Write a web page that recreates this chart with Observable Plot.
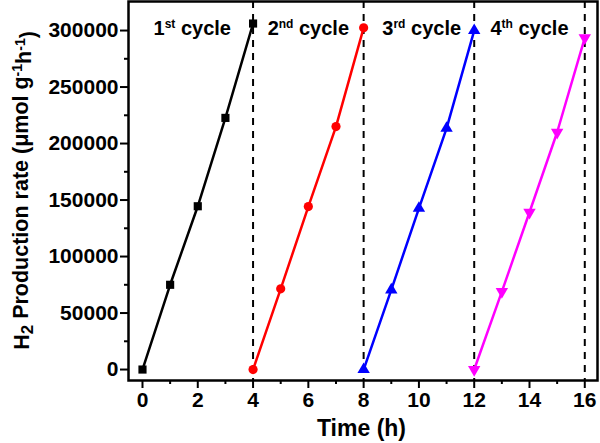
<!DOCTYPE html>
<html>
<head>
<meta charset="utf-8">
<script src="https://cdn.jsdelivr.net/npm/d3@7"></script>
<script src="https://cdn.jsdelivr.net/npm/@observablehq/plot@0.6"></script>
<style>
  body { margin: 0; background: #fff; }
  #chart svg { display: block; }
</style>
</head>
<body>
<div id="chart"></div>
<script>
// ---- data ----
const cycleNames = ["1st", "2nd", "3rd", "4th"];
const cycleColors = ["#000000", "#ff0000", "#0000ff", "#ff00ff"];
const cycleTimes = [[0, 1, 2, 3, 4], [4, 5, 6, 7, 8], [8, 9, 10, 11, 12], [12, 13, 14, 15, 16]];
const cycle1 = [0, 75000, 144500, 222700, 306200];
const cycle2 = [0, 71400, 144200, 215000, 302400];
const cycle3 = [0, 70500, 142700, 213500, 300000];
const cycle4 = [0, 69000, 139200, 210000, 293500];
const dividers = [4, 8, 12, 16];
const labelX = [1.8, 6, 10.1, 14];
const labelY = 302000;
const xTicks = [0, 2, 4, 6, 8, 10, 12, 14, 16];
const xMinor = [1, 3, 5, 7, 9, 11, 13, 15];
const yTicks = [0, 50000, 100000, 150000, 200000, 250000, 300000];
const yMinor = [25000, 75000, 125000, 175000, 225000, 275000];

// ---- build table ----
const values = [cycle1, cycle2, cycle3, cycle4];
const rows = [];
values.forEach((vals, i) => vals.forEach((v, j) => rows.push({cycle: cycleNames[i], t: cycleTimes[i][j], v})));
const labels = cycleNames.map((c, i) => ({cycle: c, x: labelX[i], y: labelY}));

// down-pointing triangle symbol
const triangleDown = {
  draw(ctx, size) {
    const y = -Math.sqrt(size / (Math.sqrt(3) * 3));
    const s3 = Math.sqrt(3);
    ctx.moveTo(0, -2 * y);
    ctx.lineTo(-s3 * y, y);
    ctx.lineTo(s3 * y, y);
    ctx.closePath();
  }
};
const symbols = ["square", "circle", "triangle", triangleDown];

const font = "'Liberation Sans', Arial, Helvetica, sans-serif";

const marks = [
  Plot.ruleX(dividers, {stroke: "#000", strokeWidth: 2, strokeDasharray: "7,6"}),
  ...cycleNames.map((c, i) => Plot.line(rows.filter(r => r.cycle === c), {x: "t", y: "v", stroke: cycleColors[i], strokeWidth: 2.5})),
  ...cycleNames.map((c, i) => Plot.dot(rows.filter(r => r.cycle === c), {x: "t", y: "v", fill: cycleColors[i], stroke: "none", symbol: () => symbols[i], r: 4.6})),
  Plot.text(labels, {x: "x", y: "y", text: "cycle", fontSize: 20, fontWeight: "bold", fill: "#000", className: "cyclabel"}),
  Plot.axisY(yTicks, {tickSize: 8, tickPadding: 2, strokeWidth: 2, tickFormat: d => String(d), fontSize: 21, label: null}),
  Plot.axisY(yMinor, {tickSize: 4, strokeWidth: 2, tickFormat: () => "", label: null}),
  Plot.axisX(xTicks, {tickSize: 8, tickPadding: 4, strokeWidth: 2, tickFormat: d => String(d), fontSize: 21, label: null}),
  Plot.axisX(xMinor, {tickSize: 4, strokeWidth: 2, tickFormat: () => "", label: null}),
  Plot.frame({stroke: "#000", strokeWidth: 2.5})
];

const W = 600, H = 443, mL = 128, mR = 3, mT = 1, mB = 63;
const plot = Plot.plot({
  width: W, height: H,
  marginLeft: mL, marginRight: mR, marginTop: mT, marginBottom: mB,
  style: {fontFamily: font, fontWeight: "bold", fontSize: "21px", color: "#000", background: "#fff", overflow: "visible"},
  x: {domain: [-0.506, 16.46]},
  y: {domain: [-9700, 325700]},
  marks
});
document.getElementById("chart").appendChild(plot);

const svg = d3.select(plot);

// rich text for cycle labels (superscript ordinal)
svg.selectAll("g.cyclabel text").each(function() {
  const t = d3.select(this);
  const s = t.text();
  const num = s.slice(0, 1), suf = s.slice(1);
  t.text(null);
  t.append("tspan").text(num);
  t.append("tspan").attr("font-size", 12).attr("dy", "-0.55em").text(suf);
  t.append("tspan").attr("dy", "0.37em").text(" cycle");
});

// x axis title
svg.append("text")
  .attr("x", mL + (W - mL - mR) / 2 - 1)
  .attr("y", H - 7)
  .attr("text-anchor", "middle")
  .attr("font-size", 23)
  .attr("font-weight", "bold")
  .attr("font-family", font)
  .text("Time (h)");

// y axis title with sub/superscripts
const yt = svg.append("text")
  .attr("transform", `translate(${29},${mT + (H - mT - mB) / 2}) rotate(-90)`)
  .attr("text-anchor", "middle")
  .attr("font-size", 21.5)
  .attr("font-weight", "bold")
  .attr("font-family", font);
yt.append("tspan").text("H");
yt.append("tspan").attr("font-size", 17).attr("dy", "0.25em").text("2");
yt.append("tspan").attr("dy", "-0.25em").text(" Production rate (\u03bcmol g");
yt.append("tspan").attr("font-size", 14).attr("dy", "-0.45em").text("-1");
yt.append("tspan").attr("dy", "0.45em").text("h");
yt.append("tspan").attr("font-size", 14).attr("dy", "-0.45em").text("-1");
yt.append("tspan").attr("dy", "0.45em").text(")");
</script>
</body>
</html>
